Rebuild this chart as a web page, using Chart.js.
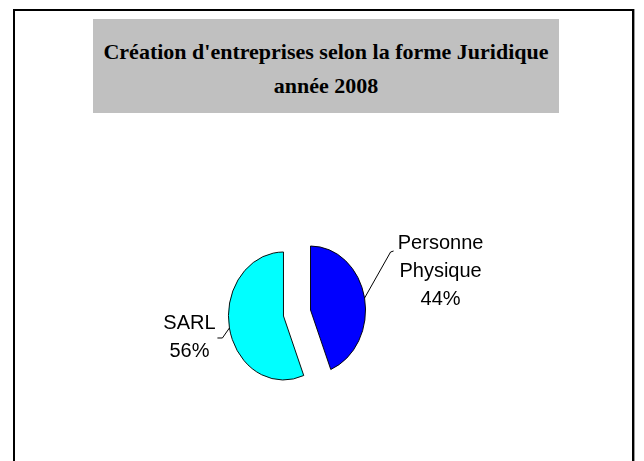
<!DOCTYPE html>
<html>
<head>
<meta charset="utf-8">
<title>Création d'entreprises selon la forme Juridique</title>
<script src="https://cdn.jsdelivr.net/npm/chart.js@4/dist/chart.umd.min.js"></script>
<style>
    html, body { margin: 0; padding: 0; background: #fff; }
    #page { position: relative; width: 644px; height: 461px; overflow: hidden; }
    #frame {
        position: absolute; left: 13px; top: 9px;
        width: 617px; height: 480px;
        border: 2px solid #000;
        box-shadow: 1px 0 0 #9a9a9a;
    }
    #titleBox {
        position: absolute; left: 93px; top: 19px;
        width: 466px; height: 94px;
        background: #c0c0c0;
        font-family: "Liberation Serif", serif;
        font-weight: bold; font-size: 22px;
        text-align: center; color: #000;
    }
    #titleBox div { position: absolute; left: 0; width: 100%; line-height: 34px; }
    #myChart { position: absolute; left: 0; top: 0; }
</style>
</head>
<body>
<div id="page">
    <div id="frame"></div>
    <div id="titleBox">
        <div style="top:16px">Création d'entreprises selon la forme Juridique</div>
        <div style="top:50px">année 2008</div>
    </div>
    <canvas id="myChart" width="644" height="461"></canvas>
</div>
<script>
"use strict"

// data
const categories = ["Personne Physique", "SARL"];
const labelLines = [["Personne", "Physique"], ["SARL"]];
const values = [44, 56];
const sliceColors = ["#0000ff", "#00ffff"];

// label placement next to each slice (relative to the slice edge point)
const labelLayout = [
    { lead: [[26, -46], [29, -47]], text: [76, -55] },
    { lead: [[-7, 10], [-12, 10]], text: [-40, -5] }
];

// squashes the pie horizontally and pulls each slice out along its middle angle
const pieShape = {
    id: "pieShape",
    beforeDatasetDraw(chart, args, opts) {
        const ctx = chart.ctx;
        args.meta.data.forEach(arc => {
            const mid = (arc.startAngle + arc.endAngle) / 2;
            ctx.save();
            ctx.translate(arc.x, arc.y);
            ctx.scale(opts.squash, 1);
            ctx.translate(Math.cos(mid) * opts.explode, Math.sin(mid) * opts.explode);
            ctx.translate(-arc.x, -arc.y);
            arc.draw(ctx);
            ctx.restore();
        });
        return false;
    }
};

// outside labels with leader lines
const sliceLabels = {
    id: "sliceLabels",
    afterDraw(chart, args, opts) {
        const ctx = chart.ctx;
        const shape = chart.options.plugins.pieShape;
        const meta = chart.getDatasetMeta(0);
        const data = chart.data.datasets[0].data;
        const total = data.reduce((a, b) => a + b, 0);

        meta.data.forEach((arc, i) => {
            const mid = (arc.startAngle + arc.endAngle) / 2;
            const r = arc.outerRadius + shape.explode;
            const ex = arc.x + Math.cos(mid) * r * shape.squash;
            const ey = arc.y + Math.sin(mid) * r;
            const lay = labelLayout[i];

            ctx.save();
            ctx.strokeStyle = "#000";
            ctx.lineWidth = 1;
            ctx.beginPath();
            ctx.moveTo(ex, ey);
            lay.lead.forEach(p => ctx.lineTo(ex + p[0], ey + p[1]));
            ctx.stroke();

            const lines = labelLines[i].concat([Math.round(data[i] / total * 100) + "%"]);
            ctx.fillStyle = "#000";
            ctx.font = opts.font;
            ctx.textAlign = "center";
            ctx.textBaseline = "middle";
            lines.forEach((t, k) => {
                ctx.fillText(t, ex + lay.text[0], ey + lay.text[1] + k * opts.lineHeight);
            });
            ctx.restore();
        });
    }
};

const ctx = document.getElementById("myChart").getContext("2d");
const myChart = new Chart(ctx, {
    type: "pie",
    data: {
        labels: categories,
        datasets: [{
            data: values,
            backgroundColor: sliceColors,
            borderColor: "#000",
            borderWidth: 1
        }]
    },
    options: {
        responsive: false,
        animation: false,
        events: [],
        radius: 64,
        layout: { padding: { left: 150, right: 200, top: 230, bottom: 65 } },
        plugins: {
            legend: { display: false },
            tooltip: { enabled: false },
            pieShape: { squash: 0.86, explode: 16 },
            sliceLabels: { font: "20px 'Liberation Sans'", lineHeight: 28 }
        }
    },
    plugins: [pieShape, sliceLabels]
});
</script>
</body>
</html>
